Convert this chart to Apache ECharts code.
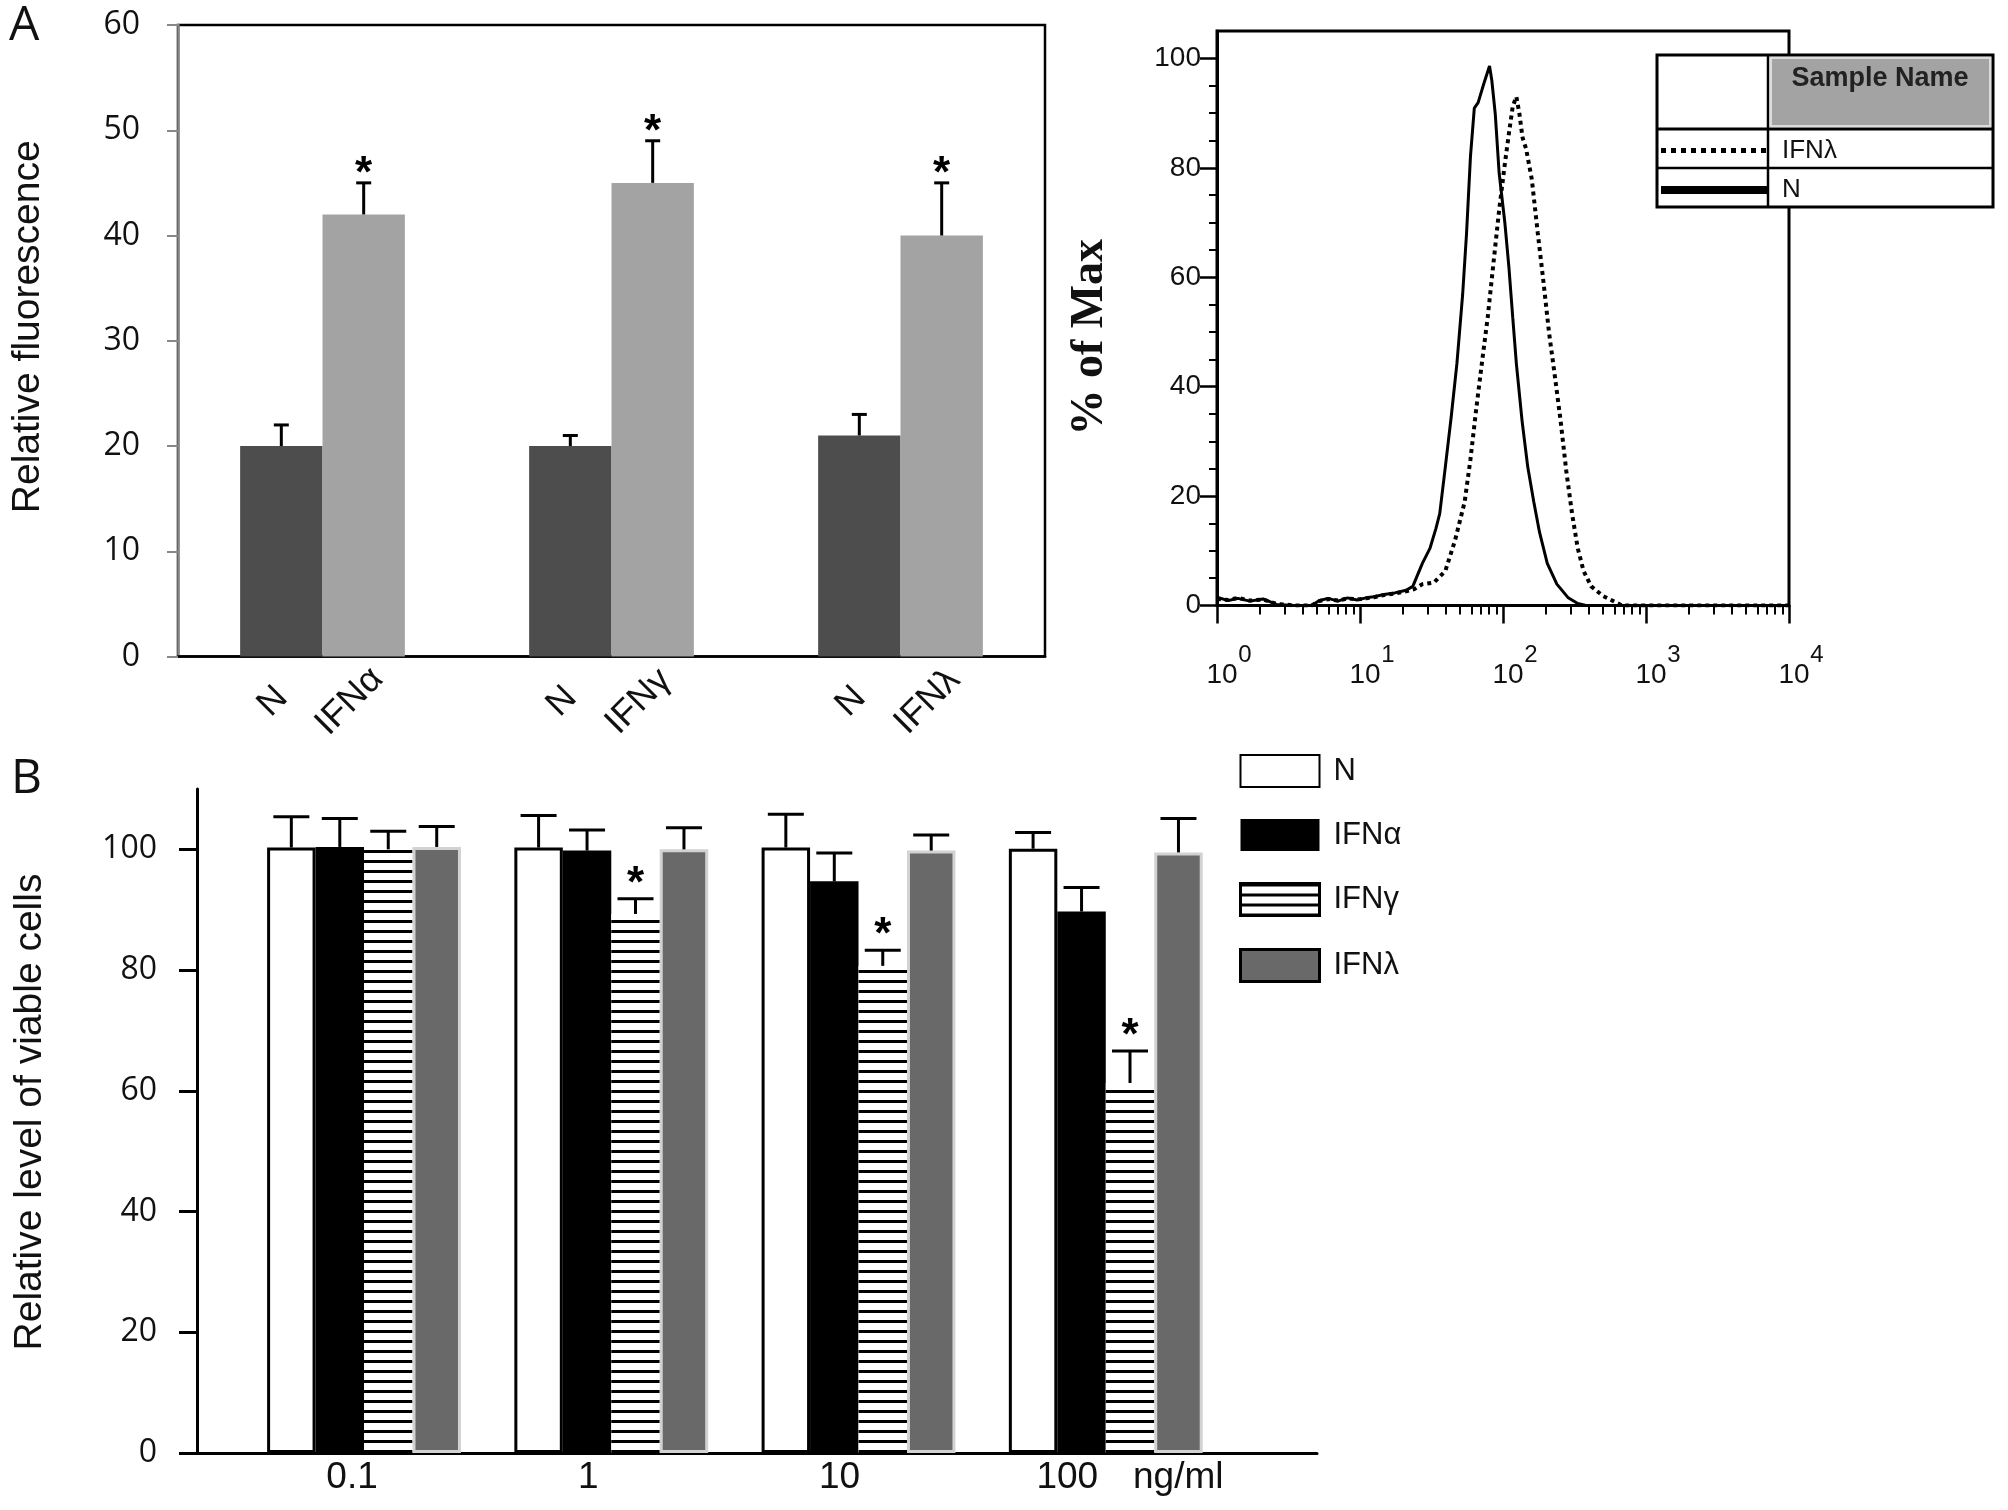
<!DOCTYPE html>
<html>
<head>
<meta charset="utf-8">
<script src="https://cdn.jsdelivr.net/npm/echarts@6/dist/echarts.min.js"></script>
<style>
  html, body { margin: 0; padding: 0; background: #fff; }
  #chart { width: 2008px; height: 1510px; }
</style>
</head>
<body>
<div id="chart"></div>
<script>
// ---------------- Panel A (left): relative fluorescence ----------------
const aCats = ['α', 'γ', 'λ'];
const aLabelN = ['N', 'N', 'N'];
const aLabelIFN = ['IFNα', 'IFNγ', 'IFNλ'];
const aN = [20, 20, 21];
const aNErr = [2, 1, 2];
const aIFN = [42, 45, 40];
const aIFNErr = [3, 4, 5];
const aIFNStar = [1, 1, 1];

// ---------------- Panel A (right): flow cytometry histogram ----------------
const flowNX = [1, 1.2, 1.4, 1.7, 2.1, 2.6, 3.5, 4.6, 5.2, 6, 7, 8.2, 9.5, 11, 12.5, 14.7, 17.5, 21, 23.4, 27.3,
  30.9, 33.9, 36.1, 39.5, 43.4, 47.6, 52.2, 55.6, 59.2, 63.0, 67.0, 73.5, 80.5, 83.5, 88.3, 94.0, 103, 110, 117, 124,
  136, 149, 164, 180, 204, 238, 286, 333, 380, 10000];
const flowNY = [1.5, 0.9, 1.3, 0.8, 1.2, 0.2, 0, 0, 0.9, 1.3, 0.8, 1.4, 1.0, 1.4, 1.6, 2.0, 2.3, 2.8, 3.5, 7.7,
  10.5, 14, 16.8, 25.3, 34.4, 44.2, 56.8, 68, 82, 90.9, 91.9, 95.4, 98.6, 96, 89.8, 79, 70, 61.8, 52.6, 44.2,
  33.7, 25.3, 19.0, 13.4, 7.7, 3.9, 1.4, 0.35, 0, 0];
const flowLamX = [1, 1.2, 1.4, 1.7, 2.1, 2.6, 3.5, 4.6, 5.2, 6, 7, 8.2, 9.5, 11, 12.5, 14.7, 17.5, 21, 24, 27.3,
  32.9, 39.5, 46.2, 53.9, 59.2, 64.9, 71.1, 78.1, 85.7, 94.0, 103, 110, 117, 124, 130, 137, 145, 159, 175, 191,
  210, 230, 253, 277, 304, 333, 366, 414, 499, 601, 679, 10000];
const flowLamY = [1.2, 1.0, 1.4, 0.9, 1.1, 0.3, 0, 0, 0.8, 1.2, 0.9, 1.3, 1.1, 1.3, 1.5, 1.9, 2.2, 2.6, 3.0, 3.9,
  4.2, 6.3, 11.9, 18.9, 26.7, 35.8, 44.2, 52.6, 62.5, 72.3, 80.7, 86.3, 91.2, 93, 90, 85.5, 83.5, 77.9, 68.1, 59.6,
  49.8, 42.1, 33.7, 24.6, 16.8, 10.5, 6.3, 3.5, 1.75, 0.7, 0, 0];
const flowXTicks = [1, 10, 100, 1000, 10000];
const flowXMinorTicks = [2, 3, 4, 5, 6, 7, 8, 9, 20, 30, 40, 50, 60, 70, 80, 90,
  200, 300, 400, 500, 600, 700, 800, 900, 2000, 3000, 4000, 5000, 6000, 7000, 8000, 9000];
const flowYTicks = [0, 20, 40, 60, 80, 100];
const flowYMinorTicks = [5, 10, 15, 25, 30, 35, 45, 50, 55, 65, 70, 75, 85, 90, 95];
const flowLegendNames = ['flowLam', 'flowN'];
const flowLegendText = { flowLam: 'IFNλ', flowN: 'N' };
const flowHeader = 'Sample Name';

// ---------------- Panel B: viable cells ----------------
const bCats = ['0.1', '1', '10', '100'];
const bUnit = 'ng/ml';
const bSeriesNames = ['N', 'IFNα', 'IFNγ', 'IFNλ'];
const bN = [100.3, 100.3, 100.3, 100.1];
const bNErr = [5.1, 5.3, 5.5, 2.7];
const bAlpha = [100.4, 99.8, 94.7, 89.7];
const bAlphaErr = [4.7, 3.4, 4.7, 4.0];
const bGamma = [100.0, 89.3, 80.7, 61.3];
const bGammaErr = [3.0, 2.5, 2.6, 5.3];
const bLambda = [100.4, 100.0, 99.8, 99.5];
const bLambdaErr = [3.4, 3.6, 2.6, 5.6];
const bGammaStar = [0, 1, 1, 1];
const bYTicks = [0, 20, 40, 60, 80, 100];

// ---------------- styling constants ----------------
const SANS = '"Liberation Sans", Arial, sans-serif';
const CAL = '"Open Sans", sans-serif';
const SERIF = '"Liberation Serif", "Times New Roman", serif';
const STAR_FONT = 'bold 44px "Liberation Sans", Arial, sans-serif';
const A_BAR_FRAC = 0.285;
const B_BAR_FRAC = 0.196;
const bLabelShift = [24, 46, 38, 77];

function errRenderer(nSeries, barFrac, capW, starGap) {
  return function (params, api) {
    const ci = api.value(0), si = api.value(1), v = api.value(2), e = api.value(3), star = api.value(4);
    const band = api.size([1, 0])[0];
    const bw = band * barFrac;
    const cx = api.coord([ci, 0])[0] + (si - (nSeries - 1) / 2) * bw;
    const yBar = api.coord([ci, v])[1];
    const yTop = api.coord([ci, v + e])[1];
    const children = [
      { type: 'line', shape: { x1: cx, y1: yBar, x2: cx, y2: yTop }, style: { stroke: '#000', lineWidth: 3 } },
      { type: 'line', shape: { x1: cx - capW / 2, y1: yTop, x2: cx + capW / 2, y2: yTop }, style: { stroke: '#000', lineWidth: 3 } }
    ];
    if (star) {
      children.push({ type: 'text', style: { text: '*', x: cx, y: yTop - starGap, align: 'center', verticalAlign: 'middle', font: STAR_FONT, fill: '#000' } });
    }
    return { type: 'group', children: children };
  };
}

const aErrData = [];
aN.forEach((v, i) => aErrData.push([i, 0, v, aNErr[i], 0]));
aIFN.forEach((v, i) => aErrData.push([i, 1, v, aIFNErr[i], aIFNStar[i]]));

const bValues = [bN, bAlpha, bGamma, bLambda];
const bErrs = [bNErr, bAlphaErr, bGammaErr, bLambdaErr];
const bStars = [[0, 0, 0, 0], [0, 0, 0, 0], bGammaStar, [0, 0, 0, 0]];
const bErrData = [];
bValues.forEach((arr, si) => arr.forEach((v, i) => bErrData.push([i, si, v, bErrs[si][i], bStars[si][i]])));

const bItemStyles = [
  { color: '#fff', borderColor: '#000', borderWidth: 3 },
  { color: '#000', borderColor: '#000', borderWidth: 0 },
  { color: '#fff', borderWidth: 0, decal: { symbol: 'rect', symbolSize: 1, color: '#000', dashArrayX: [[20, 0]], dashArrayY: [2.5, 7], rotation: 0 } },
  { color: '#696969', borderColor: '#d2d2d2', borderWidth: 3 }
];

const chart = echarts.init(document.getElementById('chart'), null, { renderer: 'canvas' });

const option = {
  animation: false,
  backgroundColor: '#fff',
  title: [
    { text: 'A', left: 9, top: 2, padding: 0, textStyle: { fontFamily: CAL, fontSize: 48, fontWeight: 'normal', color: '#111' } },
    { text: 'B', left: 11, top: 755, padding: 0, textStyle: { fontFamily: CAL, fontSize: 48, fontWeight: 'normal', color: '#111' } }
  ],
  grid: [
    { left: 178, top: 25, width: 867, height: 631.5, show: true, borderColor: '#000', borderWidth: 2.5, backgroundColor: 'transparent', containLabel: false, outerBoundsMode: 'none' },
    { left: 1217, top: 31, width: 572, height: 574.5, show: true, borderColor: '#000', borderWidth: 3, backgroundColor: 'transparent', containLabel: false, outerBoundsMode: 'none' },
    { left: 197, top: 789, width: 1120, height: 664, containLabel: false, outerBoundsMode: 'none' },
    { left: 240.4, top: 789, width: 989, height: 664, containLabel: false, outerBoundsMode: 'none' }
  ],
  xAxis: [
    { gridIndex: 0, type: 'category', data: aCats, axisLine: { lineStyle: { color: '#000', width: 2.5 } }, axisTick: { show: false }, axisLabel: { show: false }, splitLine: { show: false } },
    { gridIndex: 1, type: 'log', logBase: 10, min: 1, max: 10000, position: 'bottom',
      axisLine: { lineStyle: { color: '#000', width: 3 } },
      axisTick: { show: true, customValues: flowXTicks, length: 18, lineStyle: { color: '#000', width: 2.5 } },
      axisLabel: { show: true, customValues: flowXTicks, margin: 56, formatter: () => '10',
        fontFamily: SANS, fontSize: 28, color: '#111', padding: [0, 0, 0, 10] },
      splitLine: { show: false }, minorTick: { show: false }, minorSplitLine: { show: false } },
    { gridIndex: 1, type: 'log', logBase: 10, min: 1, max: 10000, position: 'bottom',
      axisLine: { show: false },
      axisTick: { show: true, customValues: flowXMinorTicks, length: 9, lineStyle: { color: '#000', width: 2 } },
      axisLabel: { show: true, customValues: flowXTicks, margin: 38, formatter: v => String(Math.round(Math.log10(v))),
        fontFamily: SANS, fontSize: 24, color: '#111', padding: [0, 0, 0, 56] },
      splitLine: { show: false } },
    { gridIndex: 2, type: 'category', data: [''], axisLine: { lineStyle: { color: '#000', width: 3 } }, axisTick: { show: false }, axisLabel: { show: false },
      name: bUnit, nameLocation: 'end', nameGap: -184,
      nameTextStyle: { fontFamily: SANS, fontSize: 37, color: '#111', align: 'left', verticalAlign: 'top', lineHeight: 37, padding: [6, 0, 0, 0] } },
    { gridIndex: 3, type: 'category', data: bCats.map((c, i) => ({ value: c, textStyle: { padding: [0, bLabelShift[i], 0, 0] } })),
      axisLine: { show: false }, axisTick: { show: false },
      axisLabel: { fontFamily: SANS, fontSize: 37, color: '#111', margin: 6 } }
  ],
  yAxis: [
    { gridIndex: 0, type: 'value', min: 0, max: 60, interval: 10,
      axisLine: { show: true, lineStyle: { color: '#888', width: 2.5 } },
      axisTick: { show: true, length: 11, lineStyle: { color: '#888', width: 2 } },
      axisLabel: { fontFamily: CAL, fontSize: 32, color: '#111', margin: 38 },
      splitLine: { show: false },
      name: 'Relative fluorescence', nameLocation: 'middle', nameGap: 130,
      nameTextStyle: { fontFamily: SANS, fontSize: 39, color: '#111', padding: [0, 0, 0, 28] } },
    { gridIndex: 1, type: 'value', min: 0, max: 105, position: 'left',
      axisLine: { show: true, lineStyle: { color: '#000', width: 3 } },
      axisTick: { show: true, customValues: flowYTicks, length: 17, lineStyle: { color: '#000', width: 2.5 } },
      axisLabel: { customValues: flowYTicks, fontFamily: SANS, fontSize: 28, color: '#111', margin: 16 },
      splitLine: { show: false },
      name: '% of Max', nameLocation: 'middle', nameGap: 104,
      nameTextStyle: { fontFamily: SERIF, fontWeight: 'bold', fontSize: 46, color: '#111', padding: [0, 38, 0, 0] } },
    { gridIndex: 1, type: 'value', min: 0, max: 105, position: 'left',
      axisLine: { show: false },
      axisTick: { show: true, customValues: flowYMinorTicks, length: 8, lineStyle: { color: '#000', width: 2 } },
      axisLabel: { show: false }, splitLine: { show: false } },
    { gridIndex: 2, type: 'value', min: 0, max: 110,
      axisLine: { show: true, lineStyle: { color: '#000', width: 3 } },
      axisTick: { show: true, customValues: bYTicks, length: 18, lineStyle: { color: '#000', width: 3 } },
      axisLabel: { customValues: bYTicks, fontFamily: CAL, fontSize: 32, color: '#111', margin: 40 },
      splitLine: { show: false },
      name: 'Relative level of viable cells', nameLocation: 'middle', nameGap: 147,
      nameTextStyle: { fontFamily: SANS, fontSize: 39, color: '#111', padding: [0, 0, 0, 18] } },
    { gridIndex: 3, type: 'value', min: 0, max: 110, show: false, splitLine: { show: false } }
  ],
  legend: [
    { id: 'legB', orient: 'vertical', left: 1239, top: 754, padding: 0, itemWidth: 79, itemHeight: 32, itemGap: 31, icon: 'rect',
      selectedMode: false, z: 20,
      data: [
        { name: bSeriesNames[0] },
        { name: bSeriesNames[1] },
        { name: bSeriesNames[2], itemStyle: { borderColor: '#000', borderWidth: 3 } },
        { name: bSeriesNames[3], itemStyle: { borderColor: '#000', borderWidth: 3 } }
      ],
      textStyle: { fontFamily: SANS, fontSize: 31, color: '#111', padding: [0, 0, 0, 9] } },
    { id: 'legFlow', orient: 'vertical', left: 1657, top: 137.5, padding: 0, itemWidth: 108, itemHeight: 32, itemGap: 13.4,
      selectedMode: false, z: 20,
      itemStyle: { opacity: 0 },
      data: [
        { name: flowLegendNames[0], lineStyle: { width: 5 }, itemStyle: { opacity: 0 } },
        { name: flowLegendNames[1], lineStyle: { width: 8 }, itemStyle: { opacity: 0 } }
      ],
      formatter: n => flowLegendText[n],
      textStyle: { fontFamily: SANS, fontSize: 26, color: '#111', padding: [0, 0, 0, 8] } }
  ],
  graphic: [
    { type: 'rect', z: 10, shape: { x: 1657, y: 55, width: 336, height: 152 }, style: { fill: '#fff', stroke: '#000', lineWidth: 3 } },
    { type: 'rect', z: 11, shape: { x: 1771, y: 58, width: 219, height: 68 }, style: { fill: '#a3a3a3', stroke: '#dcdcdc', lineWidth: 2 } },
    { type: 'line', z: 11, shape: { x1: 1768, y1: 55, x2: 1768, y2: 207 }, style: { stroke: '#000', lineWidth: 2.5 } },
    { type: 'line', z: 11, shape: { x1: 1657, y1: 129, x2: 1993, y2: 129 }, style: { stroke: '#000', lineWidth: 3 } },
    { type: 'line', z: 11, shape: { x1: 1657, y1: 168, x2: 1993, y2: 168 }, style: { stroke: '#000', lineWidth: 2.5 } },
    { type: 'text', z: 12, style: { text: flowHeader, x: 1880, y: 79, align: 'center', verticalAlign: 'middle', font: 'bold 27px "Liberation Sans", Arial, sans-serif', fill: '#222' } }
  ],
  series: [
    { type: 'bar', name: 'aN', xAxisIndex: 0, yAxisIndex: 0, data: aN, barWidth: (A_BAR_FRAC * 100) + '%', barGap: '0%',
      itemStyle: { color: '#4d4d4d' },
      label: { show: true, position: 'bottom', distance: 45, rotate: 45, align: 'center', verticalAlign: 'middle', offset: [-6, -6],
        formatter: p => aLabelN[p.dataIndex], fontFamily: SANS, fontSize: 36, color: '#111' } },
    { type: 'bar', name: 'aIFN', xAxisIndex: 0, yAxisIndex: 0, data: aIFN, barWidth: (A_BAR_FRAC * 100) + '%', barGap: '0%',
      itemStyle: { color: '#a3a3a3' },
      label: { show: true, position: 'bottom', distance: 45, rotate: 45, align: 'center', verticalAlign: 'middle', offset: [-10, -10],
        formatter: p => aLabelIFN[p.dataIndex], fontFamily: SANS, fontSize: 36, color: '#111' } },
    { type: 'custom', name: 'aErr', xAxisIndex: 0, yAxisIndex: 0, data: aErrData, encode: { x: 0, y: 2 },
      renderItem: errRenderer(2, A_BAR_FRAC, 15, 8), z: 5 },

    { type: 'line', name: flowLegendNames[1], xAxisIndex: 1, yAxisIndex: 1, data: flowNX.map((x, i) => [x, flowNY[i]]),
      symbol: 'none', lineStyle: { color: '#000', width: 3, type: 'solid' }, itemStyle: { color: '#000' } },
    { type: 'line', name: flowLegendNames[0], xAxisIndex: 1, yAxisIndex: 1, data: flowLamX.map((x, i) => [x, flowLamY[i]]),
      symbol: 'none', lineStyle: { color: '#000', width: 4, type: 'dotted' }, itemStyle: { color: '#000' } },

    ...bSeriesNames.map((nm, si) => ({
      type: 'bar', name: nm, xAxisIndex: 4, yAxisIndex: 4, data: bValues[si],
      barWidth: (B_BAR_FRAC * 100) + '%', barGap: '0%', itemStyle: bItemStyles[si]
    })),
    { type: 'custom', name: 'bErr', xAxisIndex: 4, yAxisIndex: 4, data: bErrData, encode: { x: 0, y: 2 },
      renderItem: errRenderer(4, B_BAR_FRAC, 36, 14), z: 5 }
  ]
};

chart.setOption(option);
</script>
</body>
</html>
